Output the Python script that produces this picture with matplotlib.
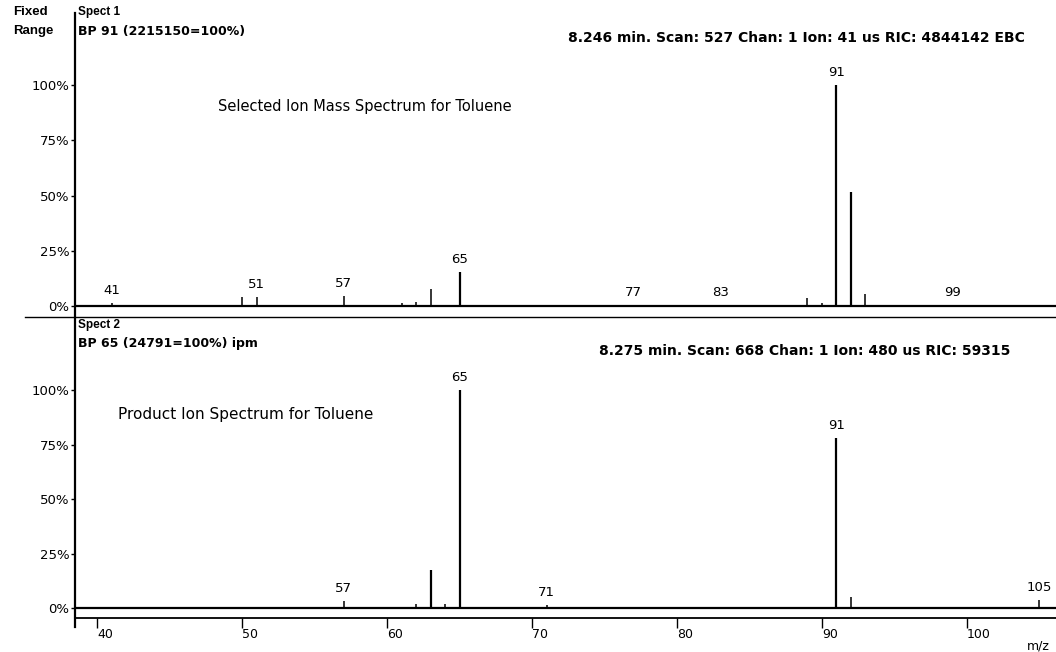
import matplotlib
matplotlib.use("Agg")
import matplotlib.pyplot as plt
from matplotlib.lines import Line2D

plt.rcParams['font.family'] = ['DejaVu Sans']

# Spect 1 - selected ion mass spectrum (relative intensity, %)
mz_top = [39, 41, 43, 49, 50, 51, 52, 55, 57, 61, 62, 63, 64, 65, 66, 73, 77,
          83, 89, 90, 91, 92, 93, 99]
int_top = [0.6, 1.4, 0.5, 0.5, 4.0, 4.0, 0.5, 0.4, 4.5, 1.2, 1.8, 7.5, 0.6, 15.5,
           0.6, 0.4, 0.5, 0.3, 3.5, 1.5, 100, 51.5, 5.5, 0.4]
labels_top = [41, 51, 57, 65, 77, 83, 91, 99]

# Spect 2 - product ion spectrum
mz_bot = [57, 60, 62, 63, 64, 65, 71, 91, 92, 93, 105]
int_bot = [3.0, 0.5, 1.8, 17.5, 2.0, 100, 1.2, 78, 5.0, 0.5, 3.8]
labels_bot = [57, 65, 71, 91, 105]

yticks = [0, 25, 50, 75, 100]
ytick_labels = ['0%', '25%', '50%', '75%', '100%']
xticks = [40, 50, 60, 70, 80, 90, 100]

W, H = 1056, 652
fig = plt.figure(figsize=(W / 100, H / 100), dpi=100)
SANS = 'Liberation Sans'


def box(x0, y0, x1, y1):
    # pixel box (top-left origin) -> figure fraction rect
    return [x0 / W, 1 - y1 / H, (x1 - x0) / W, (y1 - y0) / H]


def fpt(x, y):
    return x / W, 1 - y / H


ax1 = fig.add_axes(box(75, 13, 1056, 317))
ax2 = fig.add_axes(box(75, 317, 1056, 618))

for ax, mz, inten, labs, ylo, yhi in [(ax1, mz_top, int_top, labels_top, -4.98, 132.6),
                                      (ax2, mz_bot, int_bot, labels_bot, -4.59, 133.5)]:
    ax.set_xlim(38.48, 106.14)
    ax.set_ylim(ylo, yhi)
    big = [i >= 10 for i in inten]
    ax.vlines(mz, 0, inten, colors='black',
              linewidths=[1.6 if b else 1.1 for b in big])
    ax.axhline(0, color='black', lw=1.6)
    d = dict(zip(mz, inten))
    for m in labs:
        ax.annotate(str(m), (m, d.get(m, 0)), xytext=(0, 9), textcoords='offset points',
                    ha='center', va='center', fontsize=9.5)
    for s in ['top', 'right', 'left']:
        ax.spines[s].set_visible(False)
    ax.set_yticks(yticks)
    ax.set_yticklabels(ytick_labels, fontsize=9.5)
    ax.tick_params(axis='y', length=3, width=1, pad=1, direction='out')
    ax.patch.set_alpha(0)

ax1.spines['bottom'].set_visible(False)
ax1.set_xticks([])

ax2.spines['bottom'].set_linewidth(1.3)
ax2.set_xticks(xticks)
ax2.set_xticklabels([str(t) for t in xticks], fontsize=9, ha='left')
ax2.tick_params(axis='x', length=7, width=1, pad=0, direction='out')

# frame lines
fig.add_artist(Line2D([75 / W, 75 / W], [1 - 13 / H, 1 - 627 / H], color='black', lw=1.6))
fig.add_artist(Line2D([25 / W, 1], [1 - 317 / H, 1 - 317 / H], color='black', lw=1.0))

# header texts
fig.text(*fpt(13, 12), 'Fixed', fontsize=9.5, family=SANS, weight='bold', va='center', ha='left')
fig.text(*fpt(13, 31), 'Range', fontsize=9.5, family=SANS, weight='bold', va='center', ha='left')
fig.text(*fpt(78, 12), 'Spect 1', fontsize=8.5, family=SANS, weight='bold', va='center', ha='left')
fig.text(*fpt(78, 31), 'BP 91 (2215150=100%)', fontsize=9, weight='bold', va='center', ha='left')
fig.text(*fpt(1025, 38), '8.246 min. Scan: 527 Chan: 1 Ion: 41 us RIC: 4844142 EBC',
         fontsize=10, weight='bold', va='center', ha='right')
fig.text(*fpt(218, 106), 'Selected Ion Mass Spectrum for Toluene', fontsize=10.5,
         va='center', ha='left')

fig.text(*fpt(78, 325), 'Spect 2', fontsize=8.5, family=SANS, weight='bold', va='center', ha='left')
fig.text(*fpt(78, 344), 'BP 65 (24791=100%) ipm', fontsize=9, weight='bold', va='center', ha='left')
fig.text(*fpt(1010, 351), '8.275 min. Scan: 668 Chan: 1 Ion: 480 us RIC: 59315',
         fontsize=10, weight='bold', va='center', ha='right')
fig.text(*fpt(118, 415), 'Product Ion Spectrum for Toluene', fontsize=11,
         va='center', ha='left')
fig.text(*fpt(1027, 646), 'm/z', fontsize=9, va='center', ha='left')

fig.savefig('out.png', dpi=100)
